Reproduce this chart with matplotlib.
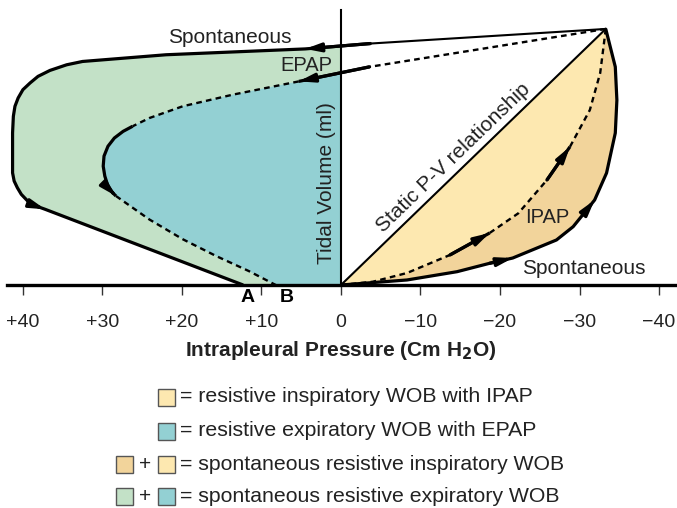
import numpy as np
import matplotlib
matplotlib.use("Agg")
import matplotlib.pyplot as plt
from matplotlib.patches import Rectangle

plt.rcParams['font.family'] = ['Liberation Sans', 'DejaVu Sans']
plt.rcParams['mathtext.fontset'] = 'custom'
plt.rcParams['mathtext.bf'] = 'Liberation Sans Narrow:bold'
plt.rcParams['mathtext.rm'] = 'Liberation Sans Narrow:bold'

# pressure (cm H2O, positive = left) and tidal volume (ml)
outer_exp_p = [-33.3, -3.7, 4.5, 22.0, 32.5, 34.5, 36.6, 38.1, 39.1, 40.0, 40.6, 41.0, 41.2, 41.3,
               41.3, 41.1, 40.7, 40.2, 39.4, 38.3, 37.2, 12.3]
outer_exp_v = [500, 471.5, 461, 449.6, 436.5, 430, 419, 407.4, 394.5, 381.4, 365.2, 349, 329.5, 297,
               219, 203, 190, 177, 164, 154, 147.8, 0]
epap_p = [-33.3, -3.6, 5.3, 13.6, 19.9, 24.1, 26.2, 27.4, 28.5, 29.3, 29.8, 29.9, 29.7, 29.3, 28.7,
          28.3, 24.1, 19.9, 15.7, 11.6, 8.2]
epap_v = [500, 426, 397.6, 371.7, 349, 326, 310, 300, 287, 271, 251.7, 232, 212.7, 193, 180,
          173.8, 128, 89.4, 56.6, 27.3, 0]
ipap_p = [0, -4.0, -8.3, -13.7, -18.7, -22.3, -25.9, -28.8, -31.3, -32.6, -33.3]
ipap_v = [0, 6.4, 23.4, 58.6, 101.6, 140, 205, 270, 341.8, 414, 500]
spont_insp_p = [0, -8.3, -14.6, -18.7, -21.6, -27.1, -29.2, -30.9, -31.9, -33.4, -34.5, -34.7, -34.5, -33.3]
spont_insp_v = [0, 9.8, 26, 42.4, 52.7, 87.9, 113.9, 146.5, 166, 218.7, 296.8, 361, 426, 500]
static_p = [0, -33.3]
static_v = [0, 500]

xticks = [40, 30, 20, 10, 0, -10, -20, -30, -40]
xtick_labels = ['+40', '+30', '+20', '+10', '0', '\u221210', '\u221220', '\u221230', '\u221240']

legend_rows = ['= resistive inspiratory WOB with IPAP',
               '= resistive expiratory WOB with EPAP',
               '= spontaneous resistive inspiratory WOB',
               '= spontaneous resistive expiratory WOB']

c_green = '#c3e1c7'
c_blue = '#93d0d3'
c_yellow = '#fde8b0'
c_tan = '#f2d49b'

fig = plt.figure(figsize=(6.77, 5.08), dpi=100)
ax = fig.add_axes([7 / 677, 1 - 285 / 508, 670 / 677, 275 / 508])
ax.set_xlim(42.0, -42.26)
ax.set_ylim(0, 537)

# fills (expiratory areas only left of the volume axis)
clip = Rectangle((0, 0), 60, 600, transform=ax.transData)
g = ax.fill(outer_exp_p + static_p, outer_exp_v + static_v, color=c_green, lw=0, zorder=1)[0]
g.set_clip_path(clip)
b = ax.fill(epap_p + static_p, epap_v + static_v, color=c_blue, lw=0, zorder=2)[0]
b.set_clip_path(clip)
ax.fill(spont_insp_p[::-1] + static_p, spont_insp_v[::-1] + static_v, color=c_tan, lw=0, zorder=1)
ax.fill(ipap_p[::-1] + static_p, ipap_v[::-1] + static_v, color=c_yellow, lw=0, zorder=2)

thick = 2.3
thin = 1.5
dash = (0, (2.4, 1.8))


def seg(px, py, i0, i1, kind):
    xs, ys = px[i0:i1 + 1], py[i0:i1 + 1]
    if kind == 'thick':
        ax.plot(xs, ys, color='k', lw=thick, solid_capstyle='butt', zorder=5, clip_on=False)
    elif kind == 'thin':
        ax.plot(xs, ys, color='k', lw=thin, zorder=5, clip_on=False)
    else:
        ax.plot(xs, ys, color='k', lw=thin + 0.2, ls=dash, zorder=5, clip_on=False)


def head(px, py, i):
    ax.annotate('', xy=(px[i], py[i]), xytext=(px[i - 1], py[i - 1]),
                arrowprops=dict(arrowstyle='-|>,head_length=0.9,head_width=0.25',
                                color='k', lw=thick, shrinkA=0, shrinkB=0), zorder=6)


seg(outer_exp_p, outer_exp_v, 0, 1, 'thin')
seg(outer_exp_p, outer_exp_v, 1, 21, 'thick')
head(outer_exp_p, outer_exp_v, 2)
head(outer_exp_p, outer_exp_v, 20)

seg(epap_p, epap_v, 0, 1, 'dash')
seg(epap_p, epap_v, 1, 2, 'thick')
seg(epap_p, epap_v, 2, 6, 'dash')
seg(epap_p, epap_v, 6, 15, 'thick')
seg(epap_p, epap_v, 15, 20, 'dash')
head(epap_p, epap_v, 2)
head(epap_p, epap_v, 15)

seg(ipap_p, ipap_v, 0, 3, 'dash')
seg(ipap_p, ipap_v, 3, 4, 'thick')
seg(ipap_p, ipap_v, 4, 6, 'dash')
seg(ipap_p, ipap_v, 6, 7, 'thick')
seg(ipap_p, ipap_v, 7, 10, 'dash')
head(ipap_p, ipap_v, 4)
head(ipap_p, ipap_v, 7)

seg(spont_insp_p, spont_insp_v, 0, 13, 'thick')
head(spont_insp_p, spont_insp_v, 4)
head(spont_insp_p, spont_insp_v, 8)

ax.plot(static_p, static_v, color='k', lw=thin, zorder=5)

# axes
for s in ['top', 'right']:
    ax.spines[s].set_visible(False)
ax.spines['left'].set_position(('data', 0))
ax.spines['left'].set_linewidth(1.5)
ax.spines['left'].set_zorder(7)
ax.spines['bottom'].set_linewidth(2.4)
ax.spines['bottom'].set_zorder(7)
ax.set_yticks([])
ax.set_xticks(xticks)
ax.set_xticklabels(xtick_labels, fontsize=14, color='#222222')
ax.tick_params(axis='x', direction='out', length=7, width=1, color='#333333', pad=14)

ax.text(14.0, 484, 'Spontaneous', fontsize=15, ha='center', va='center', color='#222222')
ax.text(4.3, 428, 'EPAP', fontsize=14.5, ha='center', va='center', color='#222222')
ax.text(1.8, 199, 'Tidal Volume (ml)', fontsize=15, rotation=90, ha='center', va='center', color='#222222')
ax.text(-14.1, 248, 'Static P-V relationship', fontsize=15, rotation=44, rotation_mode='anchor',
        ha='center', va='center', color='#222222')
ax.text(-26.0, 132, 'IPAP', fontsize=14.5, ha='center', va='center', color='#222222')
ax.text(-30.6, 32, 'Spontaneous', fontsize=15, ha='center', va='center', color='#222222')
ax.text(11.7, -24, 'A', fontsize=14, fontweight='bold', ha='center', va='center', clip_on=False)
ax.text(6.8, -24, 'B', fontsize=14, fontweight='bold', ha='center', va='center', clip_on=False)
ax.text(0, -127, r'Intrapleural Pressure (Cm H$_\mathbf{2}$O)', fontsize=15,
        family=['Liberation Sans Narrow', 'Liberation Sans'], fontweight='bold',
        ha='center', va='center', clip_on=False, color='#222222')

# legend
W, H = 677.0, 508.0
row_y = [397, 431, 464, 496]
row_boxes = [[c_yellow], [c_blue], [c_tan, c_yellow], [c_green, c_blue]]
bs = 17
for y, label, boxes in zip(row_y, legend_rows, row_boxes):
    xs = [158] if len(boxes) == 1 else [116, 158]
    for x, col in zip(xs, boxes):
        fig.add_artist(Rectangle((x / W, 1 - (y + bs / 2) / H), bs / W, bs / H, transform=fig.transFigure,
                                 facecolor=col, edgecolor='#555555', lw=1))
    if len(boxes) == 2:
        fig.text(145.5 / W, 1 - y / H, '+', fontsize=15, ha='center', va='center', color='#222222')
    fig.text(180 / W, 1 - y / H, label, fontsize=15.3, ha='left', va='center', color='#222222')

fig.savefig('out.png', dpi=100)
